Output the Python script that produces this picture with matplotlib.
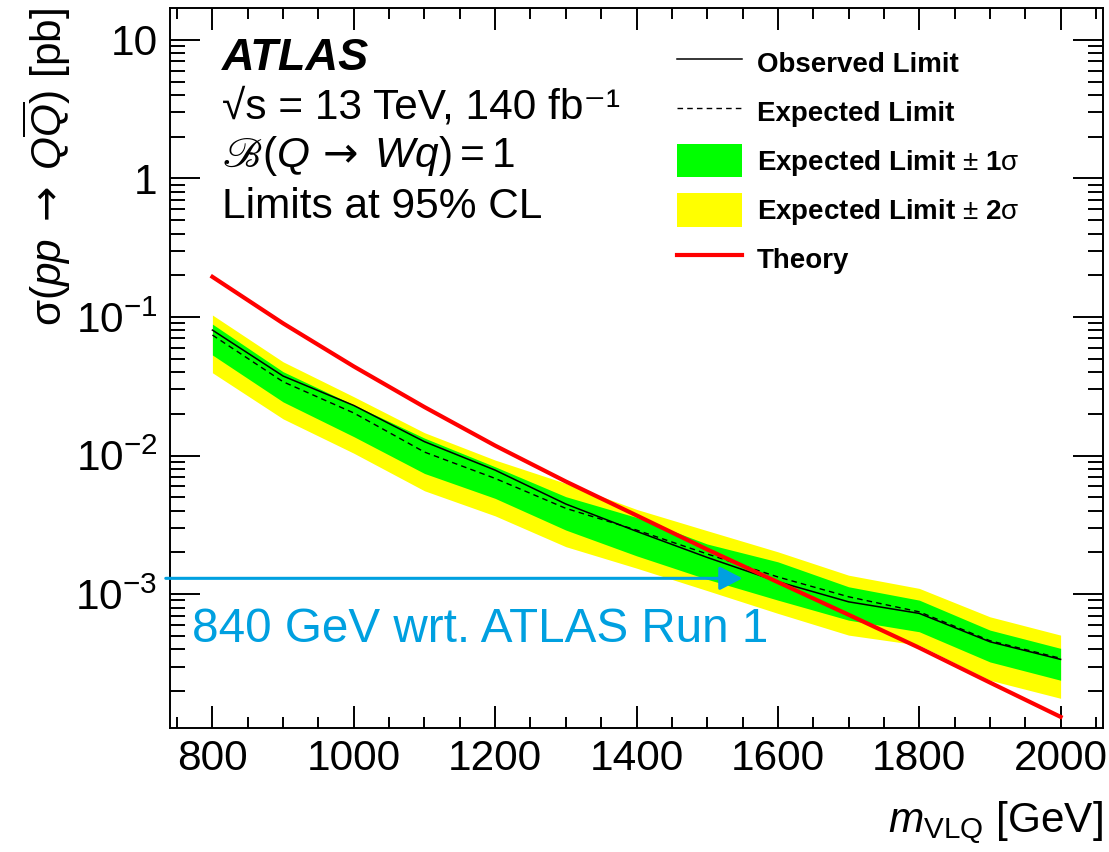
import math
import matplotlib
matplotlib.use('Agg')
import matplotlib.pyplot as plt
from matplotlib.lines import Line2D
from matplotlib.patches import Patch
from matplotlib.ticker import FixedLocator, LogLocator, MultipleLocator, FuncFormatter, NullFormatter

plt.rcParams['font.family'] = ['Liberation Sans', 'DejaVu Sans']
plt.rcParams['mathtext.fontset'] = 'custom'
plt.rcParams['mathtext.rm'] = 'Liberation Sans'
plt.rcParams['mathtext.it'] = 'Liberation Sans:italic'
plt.rcParams['mathtext.bf'] = 'Liberation Sans:bold'
plt.rcParams['mathtext.sf'] = 'DejaVu Sans'
plt.rcParams['mathtext.fallback'] = 'stix'

# VLQ mass points (GeV) and cross-section limits (pb)
mass = [800, 900, 1000, 1100, 1200, 1300, 1400, 1500, 1600, 1700, 1800, 1900, 2000]
observed = [0.0805, 0.0375, 0.0230, 0.0126, 0.00785, 0.00447, 0.00284, 0.00184,
            0.00123, 0.00088, 0.000726, 0.000453, 0.000338]
expected = [0.0741, 0.0341, 0.0203, 0.0106, 0.00684, 0.00416, 0.00290, 0.00195,
            0.00133, 0.000957, 0.000745, 0.000461, 0.000344]
exp_p1s = [0.0889, 0.0403, 0.0232, 0.01337, 0.0083, 0.00505, 0.00358, 0.0023,
           0.00171, 0.00113, 0.000905, 0.00055, 0.000406]
exp_p2s = [0.1034, 0.0475, 0.0266, 0.01463, 0.00928, 0.0063, 0.00409, 0.00287,
           0.00202, 0.00137, 0.0011, 0.000686, 0.000506]
exp_m1s = [0.0532, 0.0244, 0.0137, 0.00743, 0.00491, 0.0029, 0.00189, 0.00128,
           0.000905, 0.000649, 0.000535, 0.000324, 0.000239]
exp_m2s = [0.0396, 0.0184, 0.0104, 0.00557, 0.00367, 0.0022, 0.00154, 0.00106,
           0.000726, 0.000506, 0.000428, 0.000239, 0.000177]
theory = [0.195, 0.090, 0.044, 0.0224, 0.0118, 0.0065, 0.0037, 0.0021,
          0.00122, 0.00071, 0.00041, 0.00023, 0.00013]

# Run 1 comparison arrow
run1_limit = 710
new_limit = 1550
arrow_level = 1.3e-3

blue = '#00a0e0'

fig = plt.figure(figsize=(11.09, 8.52), dpi=100)
ax = fig.add_axes([0.1533, 0.1455, 0.8413, 0.8451])

ax.fill_between(mass, exp_m2s, exp_p2s, color='#ffff00', lw=0, zorder=1)
ax.fill_between(mass, exp_m1s, exp_p1s, color='#00ff00', lw=0, zorder=2)
ax.plot(mass, expected, color='k', lw=1.0, dashes=(4, 3), zorder=3)
ax.plot(mass, observed, color='k', lw=1.1, zorder=4)
ax.plot(mass, theory, color='#ff0000', lw=3, zorder=5)

ax.set_yscale('log')
ax.set_xlim(740, 2060)
ax.set_ylim(1.08e-4, 17)

# ROOT-like ticks on all four sides
ax.xaxis.set_major_locator(MultipleLocator(200))
ax.xaxis.set_minor_locator(MultipleLocator(50))
ax.yaxis.set_major_locator(FixedLocator([1e-3, 1e-2, 1e-1, 1, 10]))
ax.yaxis.set_minor_locator(LogLocator(base=10, subs=range(2, 10), numticks=30))
ax.yaxis.set_minor_formatter(NullFormatter())


def ylab(v, pos):
    if v == 10:
        return '10'
    if v == 1:
        return '1'
    return r'$10^{%d}$' % round(math.log10(v))


ax.yaxis.set_major_formatter(FuncFormatter(ylab))
ax.tick_params(which='both', direction='in', top=True, right=True, width=1.4,
               labelsize=30.5)
ax.tick_params(axis='x', which='major', length=16, pad=8)
ax.tick_params(axis='x', which='minor', length=8)
ax.tick_params(axis='y', which='major', length=21.5, pad=9)
ax.tick_params(axis='y', which='minor', length=10.8)
for sp in ax.spines.values():
    sp.set_linewidth(1.4)

ax.text(1.0, -0.1444, r'$m_{\mathrm{VLQ}}$ [GeV]', transform=ax.transAxes,
        ha='right', va='baseline', fontsize=30.5)
ax.text(-0.1318, 1.0,
        r'$\mathrm{\sigma}(pp\;\mathsf{\rightarrow}\;Q\overline{Q})$ [pb]',
        transform=ax.transAxes, rotation=90, ha='center', va='top', fontsize=30.5)

# ATLAS label block
ax.text(0.0557, 0.9139, 'ATLAS', transform=ax.transAxes, fontsize=32.5,
        fontweight='bold', fontstyle='italic', va='baseline')
ax.text(0.0557, 0.8472, '√s = 13 TeV, 140 fb⁻¹',
        transform=ax.transAxes, fontsize=30.5, va='baseline')
ax.text(0.0557, 0.7792, r'$ℬ(Q\,\mathsf{\rightarrow}\;Wq) = 1$',
        transform=ax.transAxes, fontsize=30.5, va='baseline')
ax.text(0.0557, 0.7083, 'Limits at 95% CL', transform=ax.transAxes,
        fontsize=30.5, va='baseline')

# arrow showing the gain with respect to Run 1
ax.annotate('', xy=(new_limit, arrow_level), xytext=(734, arrow_level),
            arrowprops=dict(arrowstyle='-|>,head_length=0.7,head_width=0.36',
                            color=blue, lw=2.2, shrinkA=0, shrinkB=0,
                            mutation_scale=20),
            annotation_clip=False, zorder=6)
ax.text(771, 4.5e-4, '%d GeV wrt. ATLAS Run 1' % (new_limit - run1_limit),
        color=blue, fontsize=34.3, va='baseline', zorder=6)

handles = [
    Line2D([], [], color='k', lw=1.1),
    Line2D([], [], color='k', lw=1.0, dashes=(4, 3)),
    Patch(facecolor='#00ff00', edgecolor='none'),
    Patch(facecolor='#ffff00', edgecolor='none'),
    Line2D([], [], color='#ff0000', lw=3),
]
labels = ['Observed Limit', 'Expected Limit',
          r'Expected Limit $\pm$ 1$\mathrm{\sigma}$',
          r'Expected Limit $\pm$ 2$\mathrm{\sigma}$', 'Theory']
ax.legend(handles, labels, loc='upper left', bbox_to_anchor=(0.543, 0.9475),
          frameon=False, borderpad=0, borderaxespad=0,
          prop={'weight': 'bold', 'size': 20},
          handlelength=2.36, handleheight=1.5, handletextpad=0.52,
          labelspacing=0.54)

fig.savefig('out.png', dpi=100)
